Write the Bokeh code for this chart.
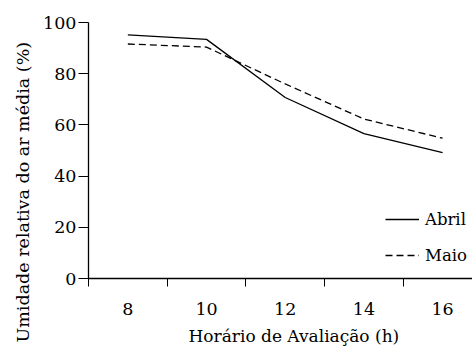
from bokeh.plotting import figure
from bokeh.models import FixedTicker, Range1d, Legend, LegendItem, Title
from bokeh.embed import file_html
from bokeh.resources import INLINE

hours = [8, 10, 12, 14, 16]
abril = [95.2, 93.4, 70.7, 56.6, 49.2]
maio = [91.6, 90.4, 76.0, 62.3, 54.8]
x_ticks = [8, 10, 12, 14, 16]
x_minor = [7, 9, 11, 13, 15]
y_ticks = [0, 20, 40, 60, 80, 100]
x_title = "Horário de Avaliação (h)"
y_title = "Umidade relativa do ar média (%)"

FONT = "DejaVu Serif"
FS = "17.5px"

p = figure(width=472, height=351, output_backend="svg", toolbar_location=None,
           x_range=Range1d(7, 16.76), y_range=Range1d(0, 100),
           min_border_left=88, min_border_top=22, min_border_bottom=64, min_border_right=0)
p.outline_line_color = None
p.xgrid.visible = False
p.ygrid.visible = False
p.background_fill_color = "white"
p.border_fill_color = "white"

r1 = p.line(hours, abril, line_color="black", line_width=1.3)
r2 = p.line(hours, maio, line_color="black", line_width=1.3, line_dash="7 4")

xa = p.xaxis[0]
xa.ticker = FixedTicker(ticks=x_ticks, minor_ticks=x_minor)
xa.major_tick_out = 0
xa.major_tick_in = 0
xa.minor_tick_out = 8
xa.minor_tick_in = 0
xa.minor_tick_line_color = "black"
xa.axis_line_color = "black"
xa.axis_line_width = 1.3
xa.major_label_standoff = 16

ya = p.yaxis[0]
ya.ticker = FixedTicker(ticks=y_ticks)
ya.minor_tick_out = 0
ya.minor_tick_in = 0
ya.major_tick_out = 10
ya.major_tick_in = 0
ya.axis_line_width = 1.3
ya.major_label_standoff = 2

for ax in (xa, ya):
    ax.major_label_text_font = FONT
    ax.major_label_text_font_size = FS
    ax.major_label_text_color = "black"
    ax.major_tick_line_color = "black"

p.add_layout(Title(text=x_title, align="left", offset=100, text_font=FONT,
                   text_font_size="17px", text_font_style="normal", text_color="black",
                   standoff=12), "below")
p.add_layout(Title(text=y_title, align="left", offset=-64, text_font=FONT,
                   text_font_size=FS, text_font_style="normal", text_color="black",
                   standoff=16), "left")

legend = Legend(items=[LegendItem(label="Abril", renderers=[r1]),
                       LegendItem(label="Maio", renderers=[r2])],
                location=(297, 13))
legend.border_line_color = None
legend.background_fill_alpha = 0
legend.label_text_font = FONT
legend.label_text_font_size = "16.5px"
legend.label_text_color = "black"
legend.glyph_width = 34
legend.glyph_height = 20
legend.label_height = 20
legend.label_standoff = 6
legend.spacing = 16
legend.padding = 0
legend.margin = 0
p.add_layout(legend, "center")

open("out.html", "w").write(file_html(p, INLINE))
